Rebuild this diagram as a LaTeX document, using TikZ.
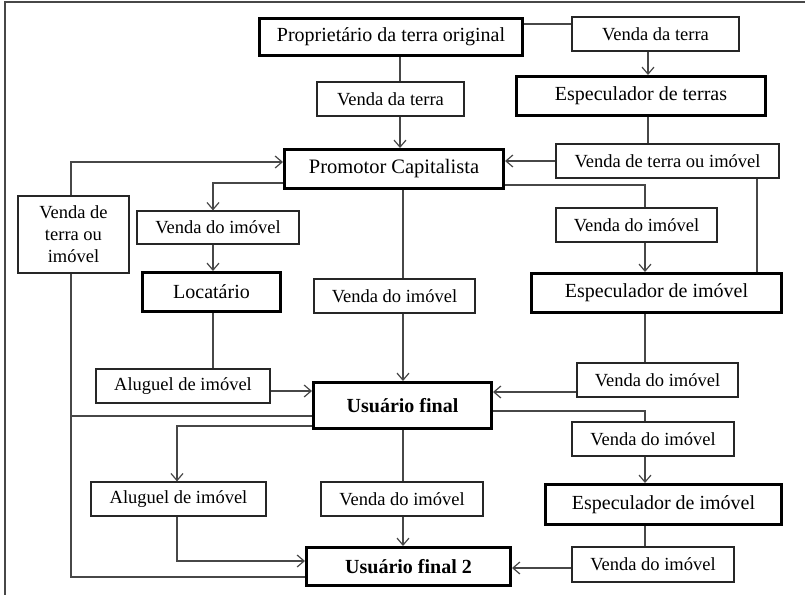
\documentclass[tikz,border=0pt]{standalone}
\usepackage{fontspec}
\setmainfont{Liberation Serif}
\usetikzlibrary{arrows.meta}
\begin{document}
\begin{tikzpicture}[x=1pt,y=-1pt,
  box/.style={draw=black!85, line width=1.2pt, inner sep=0pt, align=center,
    font=\fontsize{18.5}{22}\selectfont},
  bigbox/.style={draw=black, line width=3pt, inner sep=0pt,
    font=\fontsize{20}{24}\selectfont},
  boldbox/.style={bigbox, font=\fontsize{20}{24}\selectfont\bfseries},
  conn/.style={draw=black!72, line width=1.2pt},
  arr/.style={conn, -{Straight Barb[length=7pt,width=12pt,line width=1.2pt]}}
]
\useasboundingbox (0,0) rectangle (805,595);
% frame
\coordinate (fTL) at (5,2);
\coordinate (fTR) at (805,2);
\coordinate (fBL) at (5,595);
\draw[conn] (fTR) -- (fTL) -- (fBL);

% nodes
\node[bigbox, minimum width=263, minimum height=37] (prop) at (391,37) {Propriet\'ario da terra original};
\node[box, minimum width=167, minimum height=34] (vt1) at (655.5,34) {Venda da terra};
\node[bigbox, minimum width=249, minimum height=39] (espT) at (641,96) {Especulador de terras};
\node[box, minimum width=223, minimum height=34] (vto) at (667.5,161) {Venda de terra ou im\'ovel};
\node[box, minimum width=147, minimum height=34] (vt2) at (390.5,99) {Venda da terra};
\node[bigbox, font=\fontsize{20.5}{24}\selectfont, minimum width=219, minimum height=39] (prom) at (394,169) {Promotor Capitalista};
\node[box, minimum width=111, minimum height=77] (vlt) at (73.5,234.5) {Venda de\\terra ou\\im\'ovel};
\node[box, minimum width=162, minimum height=33] (vi1) at (218,227.5) {Venda do im\'ovel};
\node[bigbox, minimum width=138, minimum height=39] (loc) at (211.5,292) {Locat\'ario};
\node[box, minimum width=161, minimum height=34] (vi2) at (394.5,296) {Venda do im\'ovel};
\node[box, minimum width=161, minimum height=34] (vi3) at (636.5,225) {Venda do im\'ovel};
\node[bigbox, minimum width=250, minimum height=39] (espI1) at (656.5,293) {Especulador de im\'ovel};
\node[box, minimum width=174, minimum height=34] (al1) at (183,386) {Aluguel de im\'ovel};
\node[box, minimum width=161, minimum height=34] (vi4) at (657.5,380) {Venda do im\'ovel};
\node[boldbox, minimum width=178, minimum height=46] (uf) at (402.5,405.5) {Usu\'ario final};
\node[box, minimum width=162, minimum height=34] (vi5) at (653,439) {Venda do im\'ovel};
\node[bigbox, minimum width=236, minimum height=40] (espI2) at (663.5,504.5) {Especulador de im\'ovel};
\node[box, minimum width=175, minimum height=34] (al2) at (178.5,499) {Aluguel de im\'ovel};
\node[box, minimum width=162, minimum height=34] (vi6) at (402,499) {Venda do im\'ovel};
\node[box, minimum width=162, minimum height=35] (vi7) at (653,564.5) {Venda do im\'ovel};
\node[boldbox, minimum width=204, minimum height=38] (uf2) at (408.5,566.5) {Usu\'ario final 2};

% guide coordinates
\coordinate (gx648) at (648,0);
\coordinate (gx757) at (757,0);
\coordinate (gx400) at (400,0);
\coordinate (gx403) at (403,0);
\coordinate (gx213) at (213,0);
\coordinate (gx71) at (71,0);
\coordinate (gxR) at (645,0);
\coordinate (gx177) at (177,0);
\coordinate (y24) at (0,24);
\coordinate (y162) at (0,162);
\coordinate (y183) at (0,183);
\coordinate (y185) at (0,185);
\coordinate (y391) at (0,391);
\coordinate (y392) at (0,392);
\coordinate (y411) at (0,411);
\coordinate (y416) at (0,416);
\coordinate (y426) at (0,426);
\coordinate (y561) at (0,561);
\coordinate (y568) at (0,568);
\coordinate (y577) at (0,577);

% connectors
\draw[conn] (prop.east |- y24) -- (vt1.west |- y24);
\draw[arr] (vt1.south -| gx648) -- (espT.north -| gx648);
\draw[conn] (espT.south -| gx648) -- (vto.north -| gx648);
\draw[arr] (vto.west) -- (vto.west -| prom.east);
\draw[conn] (vto.south -| gx757) -- (espI1.north -| gx757);
\draw[conn] (prop.south -| gx400) -- (vt2.north -| gx400);
\draw[arr] (vt2.south -| gx400) -- (prom.north -| gx400);
\draw[arr] (prom.west |- y183) -- (gx213 |- y183) -- (vi1.north -| gx213);
\draw[arr] (vi1.south -| gx213) -- (loc.north -| gx213);
\draw[arr] (vlt.north -| gx71) -- (gx71 |- y162) -- (prom.west |- y162);
\draw[conn] (loc.south -| gx213) -- (al1.north -| gx213);
\draw[arr] (al1.east |- y391) -- (uf.west |- y391);
\draw[conn] (prom.south -| gx403) -- (vi2.north -| gx403);
\draw[arr] (vi2.south -| gx403) -- (uf.north -| gx403);
\draw[conn] (prom.east |- y185) -- (gxR |- y185) -- (vi3.north -| gxR);
\draw[arr] (vi3.south -| gxR) -- (espI1.north -| gxR);
\draw[conn] (espI1.south -| gxR) -- (vi4.north -| gxR);
\draw[arr] (vi4.west |- y392) -- (uf.east |- y392);
\draw[conn] (uf.east |- y411) -- (gxR |- y411) -- (vi5.north -| gxR);
\draw[arr] (vi5.south -| gxR) -- (espI2.north -| gxR);
\draw[conn] (espI2.south -| gxR) -- (vi7.north -| gxR);
\draw[arr] (vi7.west |- y568) -- (uf2.east |- y568);
\draw[arr] (uf.west |- y426) -- (gx177 |- y426) -- (al2.north -| gx177);
\draw[arr] (al2.south -| gx177) -- (gx177 |- y561) -- (uf2.west |- y561);
\draw[conn] (uf.south -| gx403) -- (vi6.north -| gx403);
\draw[arr] (vi6.south -| gx403) -- (uf2.north -| gx403);
\draw[conn] (vlt.south -| gx71) -- (gx71 |- y577) -- (uf2.west |- y577);
\draw[conn] (uf.west |- y416) -- (gx71 |- y416);
\end{tikzpicture}
\end{document}
